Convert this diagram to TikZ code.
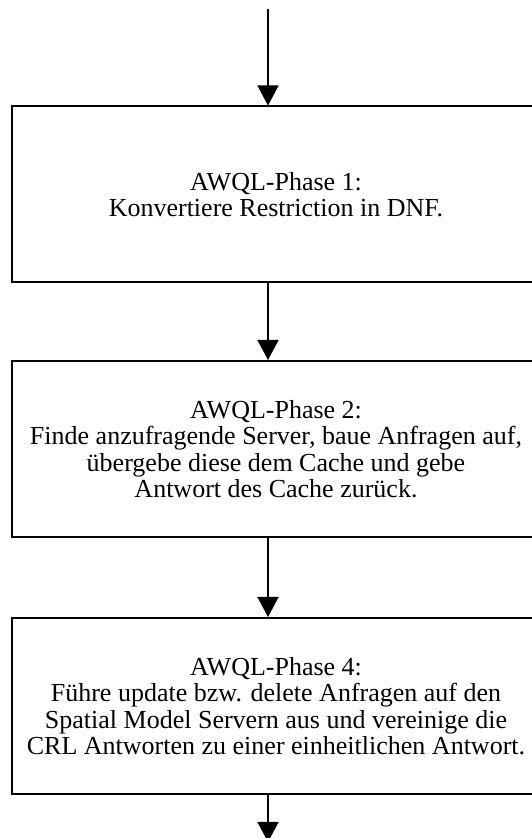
\documentclass[tikz,border=0pt]{standalone}
\usepackage{fontspec}
\setmainfont{Liberation Serif}
\usetikzlibrary{arrows.meta}
\begin{document}
\begin{tikzpicture}[x=1pt,y=1pt,
  phase/.style={draw=black, line width=2pt, minimum width=528pt, minimum height=176pt,
    inner sep=0pt, align=center, font=\fontsize{26}{26.5}\selectfont},
  flow/.style={line width=1.5pt, -{Triangle[width=21pt,length=20pt]}}]
  \useasboundingbox (0,0) rectangle (531,838);
  % three phase boxes (right edge runs past the page)
  \node[phase] (p1) at (276,643.5) {AWQL-Phase 1:\\Konvertiere Restriction in DNF.};
  \node[phase] (p2) at (276,389) {AWQL-Phase 2:\\Finde anzufragende Server, baue Anfragen auf,\\übergebe diese dem Cache und gebe\\Antwort des Cache zurück.};
  \node[phase] (p3) at (276,132) {AWQL-Phase 4:\\Führe update bzw. delete Anfragen auf den\\Spatial Model Servern aus und vereinige die\\CRL Antworten zu einer einheitlichen Antwort.};
  % entry and exit points of the flow
  \coordinate (in) at (268,829);
  \coordinate (out) at (268,-4);
  \draw[flow] (in) -- (in |- p1.north);
  \draw[flow] (in |- p1.south) -- (in |- p2.north);
  \draw[flow] (in |- p2.south) -- (in |- p3.north);
  \draw[flow] (in |- p3.south) -- (out);
\end{tikzpicture}
\end{document}
